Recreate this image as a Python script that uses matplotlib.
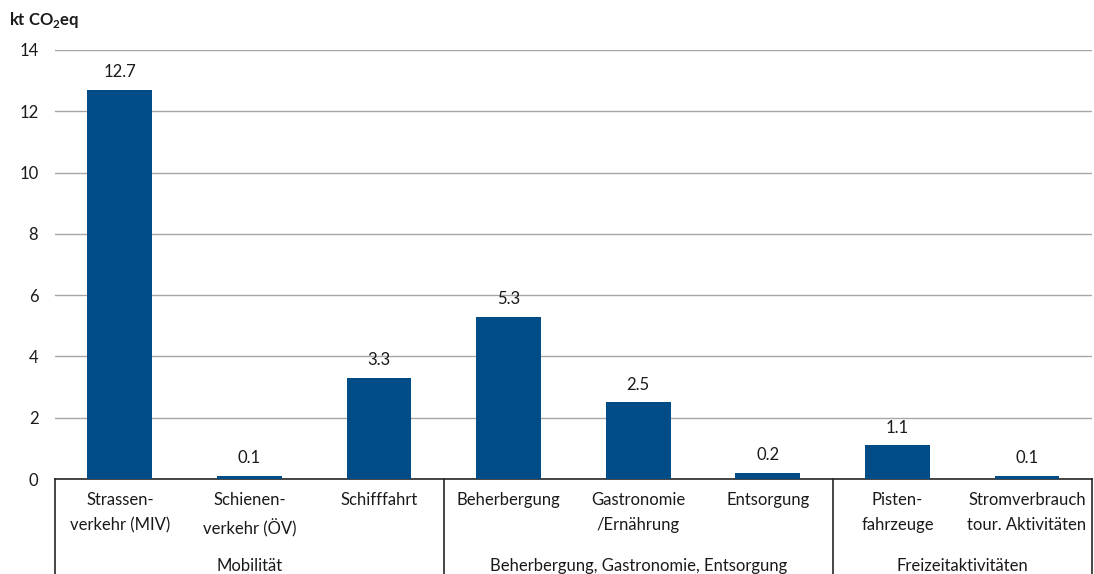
import matplotlib.pyplot as plt
import matplotlib.transforms as mtransforms
import numpy as np

plt.rcParams['font.family'] = ['Lato', 'DejaVu Sans']
plt.rcParams['mathtext.fontset'] = 'custom'
plt.rcParams['mathtext.rm'] = 'Lato'
plt.rcParams['mathtext.bf'] = 'Lato:bold'

# Data
categories = [
    'Strassen-\nverkehr (MIV)',
    'Schienen-\nverkehr (ÖV)',
    'Schifffahrt',
    'Beherbergung',
    'Gastronomie\n/Ernährung',
    'Entsorgung',
    'Pisten-\nfahrzeuge',
    'Stromverbrauch\ntour. Aktivitäten',
]
values = [12.7, 0.1, 3.3, 5.3, 2.5, 0.2, 1.1, 0.1]
groups = ['Mobilität', 'Beherbergung, Gastronomie, Entsorgung', 'Freizeitaktivitäten']
group_sizes = [3, 3, 2]

bar_color = '#004C86'
grid_color = '#A6A6A6'
text_color = '#1a1a1a'

fig = plt.figure(figsize=(10.94, 5.74), dpi=100)
ax = fig.add_axes([0.0503, 0.1655, 0.9477, 0.7475])

x = np.arange(len(categories))
ax.bar(x, values, width=0.5, color=bar_color, zorder=3)
for xi, v in zip(x, values):
    ax.annotate(f'{v:.1f}', (xi, v), xytext=(0, 7), textcoords='offset points',
                ha='center', va='bottom', fontsize=12, color=text_color)

ax.set_xlim(-0.5, len(categories) - 0.5)
ax.set_ylim(0, 14)
ax.set_yticks(np.arange(0, 15, 2))
ax.yaxis.grid(True, color=grid_color, linewidth=1)
ax.set_axisbelow(True)
ax.tick_params(axis='y', length=0, pad=12, labelsize=12, labelcolor=text_color)
ax.set_xticks([])
for side in ['top', 'right', 'left']:
    ax.spines[side].set_visible(False)
ax.spines['bottom'].set_color('#262626')
ax.spines['bottom'].set_linewidth(1.2)

trans = mtransforms.blended_transform_factory(ax.transData, ax.transAxes)

# category labels
for xi, lab in zip(x, categories):
    ax.text(xi, -0.03, lab, transform=trans, ha='center', va='top',
            fontsize=12, color=text_color, linespacing=1.7)

# group separators and labels
bounds = [-0.5]
for size in group_sizes:
    bounds.append(bounds[-1] + size)
for b in bounds:
    ax.plot([b, b], [0, -0.3], transform=trans, color='#262626',
            linewidth=1.2, clip_on=False)
for g, lo, hi in zip(groups, bounds[:-1], bounds[1:]):
    ax.text((lo + hi) / 2, -0.203, g, transform=trans, ha='center', va='center',
            fontsize=12, color=text_color)

fig.text(0.008, 0.966, r'kt CO$_\mathbf{2}$eq', fontsize=12, fontweight='bold',
         ha='left', va='center', color=text_color)

fig.savefig('out.png', dpi=100)
